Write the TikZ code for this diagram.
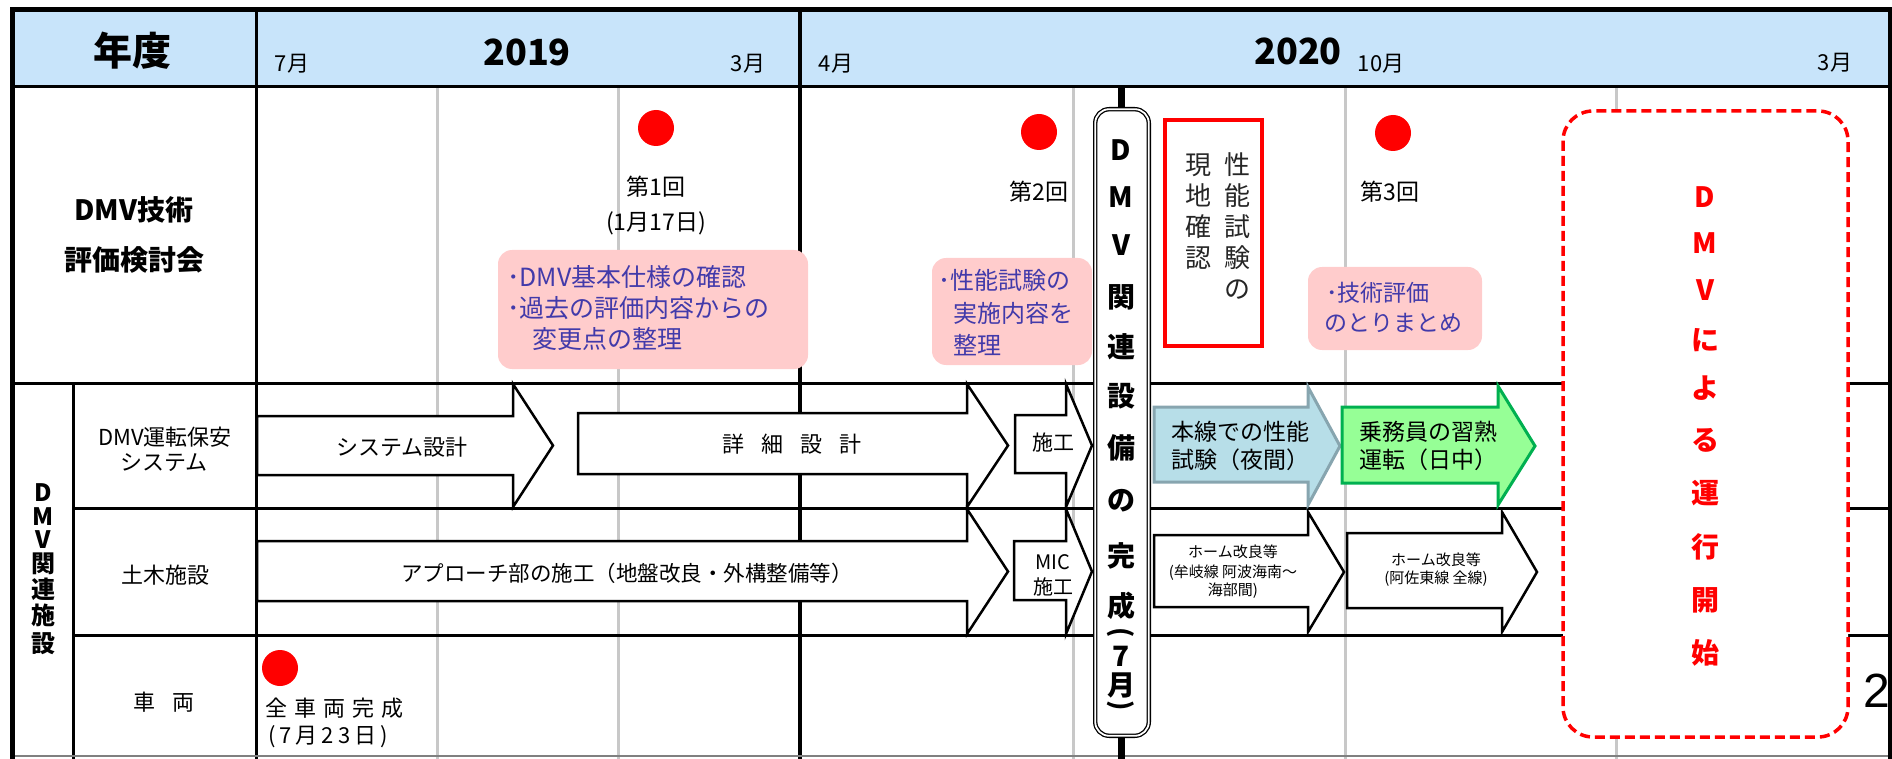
\documentclass[tikz,border=0pt]{standalone}
\usepackage{fontspec}
\setmainfont{Noto Sans CJK JP}
\newfontfamily\arialf{Liberation Sans}
\definecolor{hdr}{RGB}{200,228,250}
\definecolor{gridc}{RGB}{200,200,200}
\definecolor{pinkbg}{RGB}{255,204,204}
\definecolor{memo}{RGB}{66,58,170}
\definecolor{testfill}{RGB}{183,222,232}
\definecolor{testline}{RGB}{135,165,175}
\definecolor{drillfill}{RGB}{150,255,150}
\definecolor{drillline}{RGB}{0,176,80}
\begin{document}
\begin{tikzpicture}[x=1pt,y=-1pt,
  txt/.style={inner sep=0pt, anchor=base, font=\fontsize{#1}{#1}\selectfont},
  txtb/.style={inner sep=0pt, anchor=base, font=\fontsize{#1}{#1}\selectfont\bfseries},
  txtl/.style={inner sep=0pt, anchor=base west, font=\fontsize{#1}{#1}\selectfont},
  memotxt/.style={inner sep=0pt, anchor=base west, text=memo, font=\fontsize{#1}{#1}\selectfont},
  gridline/.style={gridc, line width=3pt},
  frame/.style={black, line width=3pt},
  blk/.style={draw=black, line width=2.5pt, fill=white, line join=miter},
  dot/.style={circle, fill=red, minimum size=36pt, inner sep=0pt},
  memobox/.style={fill=pinkbg, rounded corners=14pt},
]
\useasboundingbox (0,0) rectangle (1892,759);
% header
\fill[hdr] (12,10) rectangle (1890,87);
% grey quarter lines
\foreach \x in {437,618,1073,1345,1616} \draw[gridline] (\x,87) -- (\x,759);
% table lines
\draw[frame] (12,87) -- (1890,87);
\draw[frame] (12,383) -- (1890,383);
\draw[frame] (73,508) -- (1890,508);
\draw[frame] (73,635) -- (1890,635);
\draw[frame] (73,383) -- (73,759);
\draw[frame] (256,10) -- (256,759);
\draw[black, line width=3.5pt] (800,10) -- (800,759);
\draw[gray, line width=2pt] (12,756) -- (1890,756);

% header texts
\node[txtb=39] (nendo) at (132,65.8) {年度};
\node[txt=22] (m7) at (292,71.4) {7月};
\node[txtb=36] (y2019) at (527,65.7) {2019};
\node[txt=22] (m3a) at (748,71.4) {3月};
\node[txt=22] (m4) at (836,71.4) {4月};
\node[txtb=36] (y2020) at (1298,64.7) {2020};
\node[txt=22] (m10) at (1381,71.4) {10月};
\node[txt=22] (m3b) at (1835,70.4) {3月};

% row labels
\node[txtb=28] (lab1a) at (134,220.6) {DMV技術};
\node[txtb=28] (lab1b) at (134,270.6) {評価検討会};
\foreach \c/\y [count=\i] in {D/492,M/516,V/539,関/563,連/589,施/615,設/643}
  \node[txtb=24] (side-\i) at (43,\y+9.1) {\c};
\node[txt=22] (lab2a) at (165,445.4) {DMV運転保安};
\node[txt=22] (lab2b) at (164,470.4) {システム};
\node[txt=22] (lab3) at (165,583.4) {土木施設};
\node[txt=22] (lab4) at (164,710.4) {車\hspace{18pt}両};

% meetings
\node[dot] (dot1) at (656,128) {};
\node[dot] (dot2) at (1039,132) {};
\node[dot] (dot3) at (1393,133) {};
\node[dot] (dot4) at (280,668) {};
\node[txt=23] (mt1a) at (656,195.7) {第1回};
\node[txt=23] (mt1b) at (656,230.7) {(1月17日)};
\node[txt=23] (mt2) at (1039,200.7) {第2回};
\node[txt=23] (mt3) at (1390,200.7) {第3回};
\node[txtl=22] (veh1) at (265,716.4) {全\kern7pt 車\kern7pt 両\kern7pt 完\kern7pt 成};
\node[txtl=22] (veh2) at (268,743.4) {(\kern4pt 7\kern4pt 月\kern4pt 2\kern4pt 3\kern4pt 日\kern4pt )};

% memo boxes
\fill[memobox] (498,250) rectangle (808,369);
\node[memotxt=25] (memo1a) at (507,286.5) {･DMV基本仕様の確認};
\node[memotxt=25] (memo1b) at (507,317.5) {･過去の評価内容からの};
\node[memotxt=25] (memo1c) at (532,348.5) {変更点の整理};
\fill[memobox] (932,258) rectangle (1092,365);
\node[memotxt=24] (memo2a) at (938,289.1) {･性能試験の};
\node[memotxt=24] (memo2b) at (953,322.1) {実施内容を};
\node[memotxt=24] (memo2c) at (953,354.1) {整理};
\fill[memobox] (1308,267) rectangle (1482,350);
\node[memotxt=23] (memo3a) at (1326,301.7) {･技術評価};
\node[memotxt=23] (memo3b) at (1324,331.7) {のとりまとめ};

% site check box
\draw[red, line width=4pt, fill=white] (1165,120) rectangle (1262,346);
\foreach \c/\y [count=\i] in {性/165,能/196,試/227,験/258,の/289}
  \node[txt=26, text=black!85] (chkr-\i) at (1237,\y+9.9) {\c};
\foreach \c/\y [count=\i] in {現/165,地/196,確/227,認/258}
  \node[txt=26, text=black!85] (chkl-\i) at (1198,\y+9.9) {\c};

% row 2 arrows
\draw[blk] (257,416) -- (513,416) -- (513,384) -- (553,445.5) -- (513,507) -- (513,475) -- (257,475) -- cycle;
\node[txt=22] (a1) at (402,455.4) {システム設計};
\draw[blk] (578,413) -- (967,413) -- (967,384) -- (1008,445.5) -- (967,507) -- (967,474) -- (578,474) -- cycle;
\node[txt=22] (a2) at (792,452.4) {詳\hspace{17pt}細\hspace{17pt}設\hspace{17pt}計};
\draw[blk] (1015,415) -- (1066,415) -- (1066,384) -- (1092,445.5) -- (1066,507) -- (1066,473) -- (1015,473) -- cycle;
\node[txt=21] (a3) at (1053,450) {施工};
\draw[draw=testline, fill=testfill, line width=3pt, line join=miter] (1154,407) -- (1308,407) -- (1308,387) -- (1340,446) -- (1308,505) -- (1308,482) -- (1154,482) -- cycle;
\node[txt=23] (a4a) at (1240,440.7) {本線での性能};
\node[txt=23] (a4b) at (1240,468.7) {試験（夜間）};
\draw[draw=drillline, fill=drillfill, line width=3pt, line join=miter] (1342,407) -- (1498,407) -- (1498,386) -- (1535,446) -- (1498,505) -- (1498,483) -- (1342,483) -- cycle;
\node[txt=23] (a5a) at (1428,440.7) {乗務員の習熟};
\node[txt=23] (a5b) at (1428,468.7) {運転（日中）};

% row 3 arrows
\draw[blk] (257,541) -- (967,541) -- (967,509) -- (1008,571.5) -- (967,634) -- (967,601) -- (257,601) -- cycle;
\node[txt=21.5] (b1) at (627,581.2) {アプローチ部の施工（地盤改良・外構整備等）};
\draw[blk] (1014,541) -- (1066,541) -- (1066,509) -- (1092,571.5) -- (1066,634) -- (1066,600) -- (1014,600) -- cycle;
\node[txt=20] (b2a) at (1053,569.6) {MIC};
\node[txt=20] (b2b) at (1053,594.6) {施工};
\draw[blk] (1154,535) -- (1308,535) -- (1308,512) -- (1344,572) -- (1308,632) -- (1308,607) -- (1154,607) -- cycle;
\node[txt=15] (b3a) at (1233,557.7) {ホーム改良等};
\node[txt=15] (b3b) at (1233,577.7) {(牟岐線 阿波海南～};
\node[txt=15] (b3c) at (1233,595.7) {海部間)};
\draw[blk] (1347,533) -- (1502,533) -- (1502,512) -- (1537,572) -- (1502,632) -- (1502,608) -- (1347,608) -- cycle;
\node[txt=15] (b4a) at (1436,565.7) {ホーム改良等};
\node[txt=15] (b4b) at (1436,583.7) {(阿佐東線 全線)};

% completion pill
\draw[line width=7pt] (1121,87) -- (1121,110);
\draw[line width=7pt] (1121,735) -- (1121,759);
\draw[draw=black, line width=1.3pt, double=white, double distance=1.8pt, fill=white, rounded corners=14pt] (1095.2,109.2) rectangle (1148.8,735.8);
\foreach \c/\y [count=\i] in {D/150,M/197,V/245,関/297,連/347,設/396,備/448,の/500,完/556,成/606,7/656,月/685}
  \node[txtb=28] (pill-\i) at (1121,\y+10.6) {\c};
\node[inner sep=0pt, anchor=center, rotate=-90, font=\fontsize{26}{26}\selectfont\bfseries] (pill-open) at (1121,633) {(};
\node[inner sep=0pt, anchor=center, rotate=-90, font=\fontsize{26}{26}\selectfont\bfseries] (pill-close) at (1121,706) {)};

% operation start box
\draw[red, line width=3.5pt, dash pattern=on 10pt off 5pt, fill=white, rounded corners=30pt] (1563,111) rectangle (1848,737);
\foreach \c/\y [count=\i] in {D/197,M/243,V/290,に/340,よ/388,る/440,運/493,行/547,開/600,始/653}
  \node[txtb=28, text=red] (op-\i) at (1705,\y+10.6) {\c};

% page number fragment
\node[inner sep=0pt, anchor=base west, font=\fontsize{48}{48}\arialf] (pg) at (1863,707) {2};

% outer frame
\draw[black, line width=5pt] (10,10) -- (1892,10);
\draw[black, line width=5pt] (12,8) -- (12,759);
\draw[black, line width=5pt] (1890,8) -- (1890,759);
\end{tikzpicture}
\end{document}
